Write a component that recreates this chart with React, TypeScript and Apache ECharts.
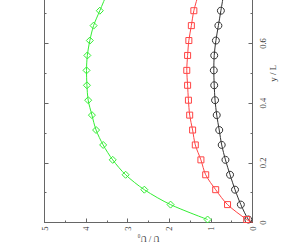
import React, { useEffect, useRef } from "react";
import * as echarts from "echarts";

// y / L positions of the sampled points
const yL = [0.01, 0.06, 0.11, 0.16, 0.21, 0.26, 0.31, 0.36, 0.41, 0.46, 0.51, 0.56, 0.61, 0.66, 0.71, 0.76];
// U / U0 values
const blackU = [0.1, 0.28, 0.42, 0.54, 0.65, 0.74, 0.8, 0.86, 0.9, 0.92, 0.93, 0.92, 0.88, 0.82, 0.76, 0.7];
const redU = [0.14, 0.6, 0.885, 1.125, 1.24, 1.375, 1.44, 1.51, 1.54, 1.56, 1.58, 1.56, 1.53, 1.47, 1.41, 1.31];
const greenU = [1.08, 1.97, 2.6, 3.05, 3.36, 3.59, 3.76, 3.86, 3.95, 3.98, 3.99, 3.97, 3.91, 3.82, 3.67, 3.52];

const uTicks = { min: 0, max: 5, interval: 1 };
const yTicks = { min: 0, max: 1, interval: 0.2 };
const yVisibleMax = 0.7; // labels above this fall outside the picture

const FONT = "Liberation Serif";
const AXIS = "#666";

function mk(name: string, u: number[], color: string, symbol: string, size: number, fromOrigin: boolean) {
  const data: any[] = u.map((v, i) => [v, yL[i]]);
  if (fromOrigin) data.unshift({ value: [0, 0], symbol: "none" });
  return {
    name,
    type: "line",
    data,
    smooth: 0.3,
    symbol,
    symbolSize: size,
    showSymbol: true,
    lineStyle: { color, width: 1 },
    itemStyle: { color: "rgba(0,0,0,0)", borderColor: color, borderWidth: 1 },
    emphasis: { disabled: true },
    clip: false,
  };
}

export default function App() {
  const ref = useRef<HTMLDivElement>(null);
  useEffect(() => {
    if (!ref.current) return;
    const chart = echarts.init(ref.current, undefined, { renderer: "svg" });
    const yCommon = {
      type: "value",
      min: yTicks.min,
      max: yTicks.max,
      interval: yTicks.interval,
      axisLine: { show: true, lineStyle: { color: AXIS, width: 1 } },
      axisTick: { show: true, inside: true, length: 4, lineStyle: { color: AXIS } },
      minorTick: { show: true, splitNumber: 2, length: 2, lineStyle: { color: AXIS } },
      splitLine: { show: false },
      minorSplitLine: { show: false },
    };
    chart.setOption({
      animation: false,
      backgroundColor: "#fff",
      grid: {
        left: 44.5,
        right: 46.5,
        top: -75.8,
        bottom: 21.5,
        containLabel: false,
        outerBoundsMode: "none",
      },
      xAxis: {
        type: "value",
        position: "bottom",
        inverse: true,
        min: uTicks.min,
        max: uTicks.max,
        interval: uTicks.interval,
        name: "U / U\u2080",
        nameLocation: "middle",
        nameGap: 12,
        nameMoveOverlap: false,
        nameRotate: 180,
        nameTextStyle: { fontFamily: FONT, fontSize: 8.5, lineHeight: 9, color: "#333" },
        axisLine: { show: true, lineStyle: { color: AXIS, width: 1 } },
        axisTick: { show: true, inside: true, length: 4, lineStyle: { color: AXIS } },
        minorTick: { show: true, splitNumber: 2, length: 2, lineStyle: { color: AXIS } },
        splitLine: { show: false },
        minorSplitLine: { show: false },
        axisLabel: { rotate: 90, margin: 4, fontFamily: FONT, fontSize: 8.5, color: "#333" },
      },
      yAxis: [
        {
          ...yCommon,
          position: "right",
          name: "y / L",
          nameLocation: "middle",
          nameGap: 16,
          nameMoveOverlap: false,
          nameRotate: 90,
          nameTextStyle: { fontFamily: FONT, fontSize: 9, color: "#333" },
          axisLabel: {
            rotate: 90,
            margin: 6,
            fontFamily: FONT,
            fontSize: 8.5,
            color: "#333",
            formatter: (v: number) =>
              v > yVisibleMax ? "" : v === 0 ? "0" : String(Math.round(v * 10) / 10),
          },
        },
        {
          ...yCommon,
          position: "left",
          axisLabel: { show: false },
        },
      ],
      series: [
        mk("black", blackU, "#333333", "circle", 7, true),
        mk("red", redU, "#ff4444", "rect", 6, true),
        mk("green", greenU, "#33ee33", "diamond", 7, false),
      ],
    });
    return () => chart.dispose();
  }, []);
  return (
    <div
      ref={ref}
      style={{ position: "absolute", left: 0, top: 0, width: 299, height: 244 }}
    />
  );
}
